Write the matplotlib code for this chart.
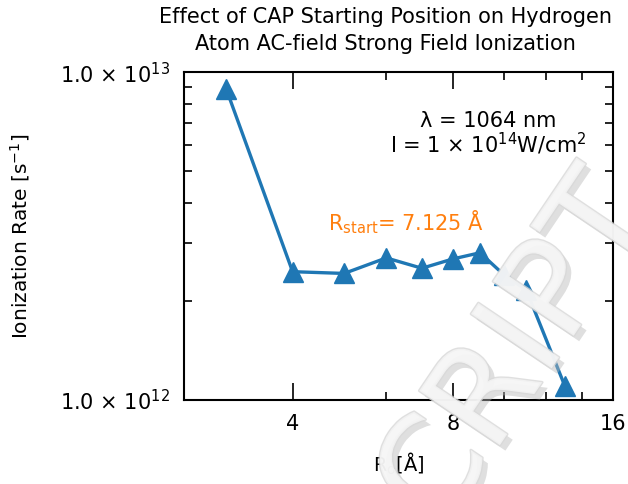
import numpy as np
import matplotlib
matplotlib.use("Agg")
import matplotlib.pyplot as plt
import matplotlib.ticker as ticker
import matplotlib.patheffects as pe

plt.rcParams['mathtext.default'] = 'regular'
plt.rcParams['font.size'] = 14

# CAP start radius (Angstrom) vs ionization rate (1/s)
r0 = [3, 4, 5, 6, 7, 8, 9, 10, 11, 13]
rate = [8.9e12, 2.46e12, 2.43e12, 2.71e12, 2.52e12, 2.69e12, 2.81e12, 2.40e12, 2.16e12, 1.10e12]

xticks = [4, 8, 16]
xminor = [6, 10, 12, 14]
yticks = [1e12, 1e13]
ylabels = [r'1.0 × 10$^{12}$', r'1.0 × 10$^{13}$']

fig = plt.figure(figsize=(6.28, 4.84), dpi=100)
ax = fig.add_axes([0.293, 0.174, 0.683, 0.677])

ax.plot(r0, rate, '-^', color='#1f77b4', lw=2.4, ms=15)

ax.set_xscale('log', base=2)
ax.set_yscale('log')
ax.set_xlim(2.5, 16)
ax.set_ylim(1e12, 1e13)

ax.xaxis.set_major_locator(ticker.FixedLocator(xticks))
ax.xaxis.set_major_formatter(ticker.FixedFormatter([str(t) for t in xticks]))
ax.xaxis.set_minor_locator(ticker.FixedLocator(xminor))
ax.xaxis.set_minor_formatter(ticker.NullFormatter())
ax.yaxis.set_major_locator(ticker.FixedLocator(yticks))
ax.yaxis.set_major_formatter(ticker.FixedFormatter(ylabels))
ax.yaxis.set_minor_locator(ticker.LogLocator(base=10, subs=np.arange(2, 10)))
ax.yaxis.set_minor_formatter(ticker.NullFormatter())

ax.tick_params(which='both', direction='in', top=True, right=True, width=1.2, labelsize=15)
ax.tick_params(which='major', length=12, pad=10)
ax.tick_params(which='minor', length=6)
for s in ax.spines.values():
    s.set_linewidth(1.5)

ax.set_xlabel(r'R$_o$[Å]', labelpad=12)
ax.set_ylabel(r'Ionization Rate [s$^{-1}$]', labelpad=20, fontsize=14.5)
ax.set_title('Effect of CAP Starting Position on Hydrogen\nAtom AC-field Strong Field Ionization',
             fontsize=15, x=0.47, pad=16, linespacing=1.4)

ax.text(0.71, 0.81, 'λ = 1064 nm\n' + r'I = 1 × 10$^{14}$W/cm$^2$',
        transform=ax.transAxes, ha='center', va='center', fontsize=15, linespacing=1.0)
ax.text(0.517, 0.543, r'R$_{start}$= 7.125 Å', transform=ax.transAxes,
        ha='center', va='center', color='#ff7f0e', fontsize=15)

# stamp across the lower right
fig.text(518 / 628, 1 - 352 / 484, 'CRIPT', rotation=56, ha='center', va='center',
         fontsize=96, color='#f6f6f6', alpha=0.8,
         path_effects=[pe.SimplePatchShadow(offset=(4, -4), shadow_rgbFace='#b8b8b8', alpha=0.45),
                       pe.Stroke(linewidth=2, foreground='#d8d8d8'), pe.Normal()])

fig.savefig('out.png', dpi=100)
